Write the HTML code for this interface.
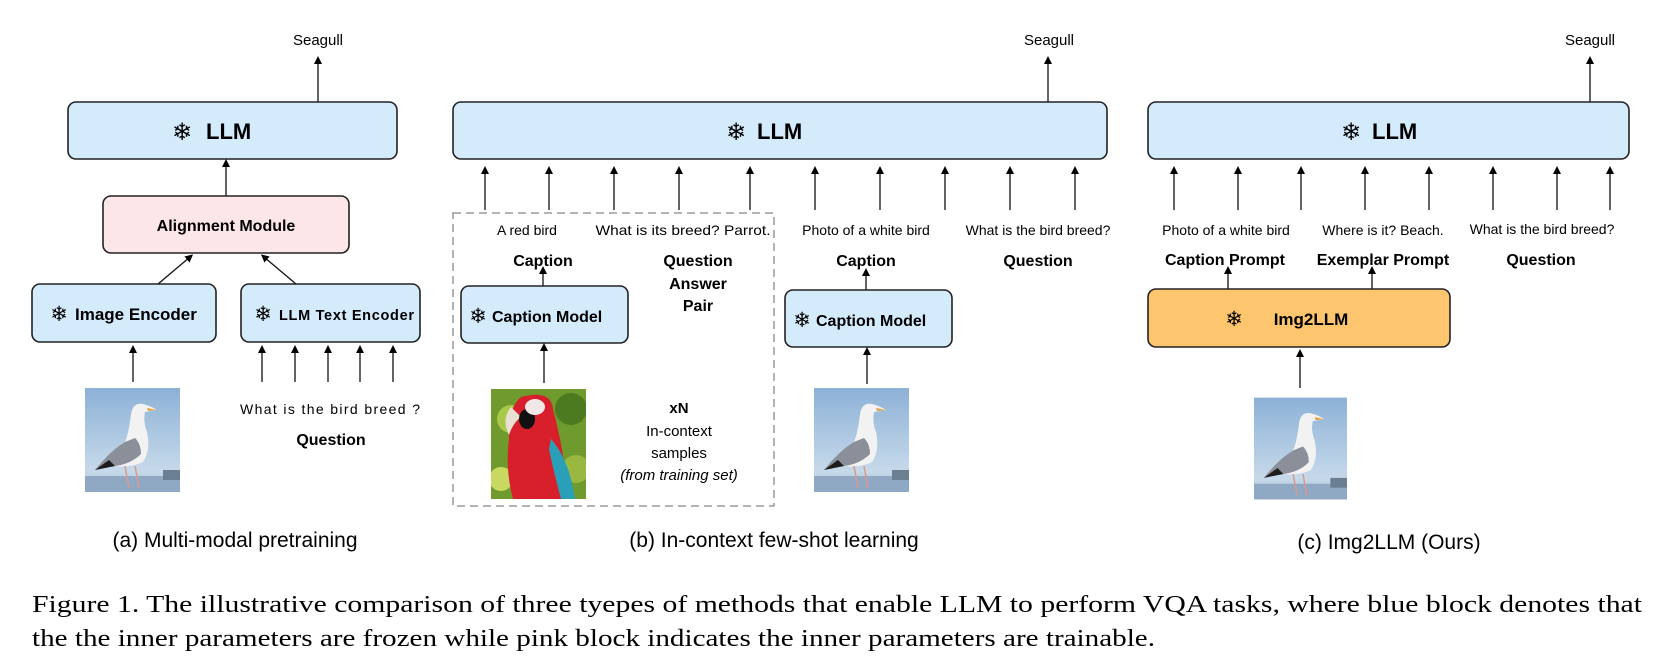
<!DOCTYPE html>
<html><head><meta charset="utf-8"><style>
html,body{margin:0;padding:0;background:#fff;}
svg{display:block;}
.s{font-family:"Liberation Sans",sans-serif;}
.f{font-family:"DejaVu Sans",sans-serif;}
.b{font-weight:bold;}
.bx{stroke:#222;stroke-width:1.6;}
.ln{stroke:#111;stroke-width:1.3;fill:none;}
</style></head><body>
<svg width="1677" height="669" viewBox="0 0 1677 669" xmlns="http://www.w3.org/2000/svg">
<defs>
<marker id="ar" markerWidth="8" markerHeight="8" refX="4" refY="4" orient="auto" markerUnits="userSpaceOnUse">
<path d="M0,0 L8,4 L0,8 z" fill="#000"/></marker>
<linearGradient id="sky" x1="0" y1="0" x2="0" y2="1"><stop offset="0" stop-color="#8cb1d6"/><stop offset="0.8" stop-color="#c6d9ea"/><stop offset="1" stop-color="#a9bfd4"/></linearGradient>
<symbol id="gull" viewBox="0 0 95 104">
<rect width="95" height="104" fill="url(#sky)"/>
<rect y="88" width="95" height="16" fill="#8fa9c4"/>
<rect x="78" y="82" width="17" height="10" fill="#6b7f92"/>
<path d="M58 16 Q48 14 46 26 Q44 44 40 54 Q26 62 10 82 L30 78 Q46 80 58 74 Q66 62 62 44 Q58 34 60 24 L72 22 Q66 18 58 16z" fill="#f2f2f2"/>
<path d="M40 54 Q26 62 10 82 L30 78 Q46 76 56 66 Q56 56 50 50z" fill="#8a8f99"/>
<path d="M10 82 L24 72 L30 78z" fill="#1c1c1c"/>
<path d="M62 20 L72 22 L63 23z" fill="#e0a040"/>
<line x1="40" y1="78" x2="44" y2="100" stroke="#d99a8a" stroke-width="1.5"/>
<line x1="50" y1="78" x2="54" y2="100" stroke="#d99a8a" stroke-width="1.5"/>
</symbol>
<symbol id="parrot" viewBox="0 0 95 110">
<rect width="95" height="110" fill="#6f9a2e"/>
<circle cx="20" cy="30" r="14" fill="#a8c84a"/><circle cx="80" cy="20" r="16" fill="#4c7a20"/><circle cx="85" cy="80" r="14" fill="#9ab840"/><circle cx="10" cy="90" r="12" fill="#c8d860"/>
<path d="M30 8 Q60 0 62 20 Q70 50 74 80 L82 110 L22 110 Q14 80 18 50 Q16 20 30 8z" fill="#d8202c"/>
<path d="M60 50 Q78 70 84 110 L70 110 Q62 80 58 60z" fill="#2aa0b8"/>
<path d="M20 18 Q10 30 18 46 Q22 34 30 28z" fill="#e8e0d0"/>
<ellipse cx="36" cy="30" rx="8" ry="10" fill="#111"/>
<ellipse cx="44" cy="18" rx="10" ry="8" fill="#f0e8e8"/>
</symbol>
</defs>

<!-- Panel A -->
<text x="318" y="45" class="s" font-size="15" text-anchor="middle">Seagull</text>
<line x1="318" y1="102" x2="318" y2="60" class="ln" marker-end="url(#ar)"/>
<rect x="68" y="102" width="329" height="57" rx="8" fill="#d4ebfc" class="bx"/>
<text x="182" y="140" class="f" font-size="24" text-anchor="middle">❄</text>
<text x="206" y="139" class="s b" font-size="22">LLM</text>
<line x1="226" y1="196" x2="226" y2="163" class="ln" marker-end="url(#ar)"/>
<rect x="103" y="196" width="246" height="57" rx="8" fill="#fde6e8" class="bx"/>
<text x="226" y="231" class="s b" font-size="16" text-anchor="middle">Alignment Module</text>
<line x1="158" y1="284" x2="190" y2="257" class="ln" marker-end="url(#ar)"/>
<line x1="296" y1="284" x2="264" y2="257" class="ln" marker-end="url(#ar)"/>
<rect x="32" y="284" width="184" height="58" rx="8" fill="#d4ebfc" class="bx"/>
<text x="59" y="321" class="f" font-size="21" text-anchor="middle">❄</text>
<text x="75" y="320" class="s b" font-size="17">Image Encoder</text>
<rect x="241" y="284" width="179" height="58" rx="8" fill="#d4ebfc" class="bx"/>
<text x="263" y="321" class="f" font-size="21" text-anchor="middle">❄</text>
<text x="279" y="320" class="s b" font-size="14.5" textLength="135">LLM Text Encoder</text>
<line x1="133" y1="382" x2="133" y2="349" class="ln" marker-end="url(#ar)"/>
<line x1="262" y1="382" x2="262" y2="349" class="ln" marker-end="url(#ar)"/>
<line x1="295" y1="382" x2="295" y2="349" class="ln" marker-end="url(#ar)"/>
<line x1="328" y1="382" x2="328" y2="349" class="ln" marker-end="url(#ar)"/>
<line x1="360" y1="382" x2="360" y2="349" class="ln" marker-end="url(#ar)"/>
<line x1="393" y1="382" x2="393" y2="349" class="ln" marker-end="url(#ar)"/>
<use href="#gull" x="85" y="388" width="95" height="104"/>
<text x="240" y="414" class="s" font-size="14" textLength="180">What is the bird breed ?</text>
<text x="331" y="445" class="s b" font-size="16" text-anchor="middle">Question</text>
<text x="235" y="547" class="s" font-size="21" text-anchor="middle">(a)  Multi-modal pretraining</text>

<!-- Panel B -->
<text x="1049" y="45" class="s" font-size="15" text-anchor="middle">Seagull</text>
<line x1="1048" y1="102" x2="1048" y2="60" class="ln" marker-end="url(#ar)"/>
<rect x="453" y="102" width="654" height="57" rx="8" fill="#d4ebfc" class="bx"/>
<text x="736" y="140" class="f" font-size="24" text-anchor="middle">❄</text>
<text x="757" y="139" class="s b" font-size="22">LLM</text>
<g>
<line x1="485" y1="210" x2="485" y2="170" class="ln" marker-end="url(#ar)"/>
<line x1="549" y1="210" x2="549" y2="170" class="ln" marker-end="url(#ar)"/>
<line x1="614" y1="210" x2="614" y2="170" class="ln" marker-end="url(#ar)"/>
<line x1="679" y1="210" x2="679" y2="170" class="ln" marker-end="url(#ar)"/>
<line x1="750" y1="210" x2="750" y2="170" class="ln" marker-end="url(#ar)"/>
<line x1="815" y1="210" x2="815" y2="170" class="ln" marker-end="url(#ar)"/>
<line x1="880" y1="210" x2="880" y2="170" class="ln" marker-end="url(#ar)"/>
<line x1="945" y1="210" x2="945" y2="170" class="ln" marker-end="url(#ar)"/>
<line x1="1010" y1="210" x2="1010" y2="170" class="ln" marker-end="url(#ar)"/>
<line x1="1075" y1="210" x2="1075" y2="170" class="ln" marker-end="url(#ar)"/>
</g>
<rect x="453" y="213" width="321" height="293" fill="none" stroke="#888" stroke-width="1.3" stroke-dasharray="8,5"/>
<text x="527" y="235" class="s" font-size="14" text-anchor="middle">A red bird</text>
<text x="683" y="235" class="s" font-size="14" text-anchor="middle" textLength="175" lengthAdjust="spacingAndGlyphs">What is its breed? Parrot.</text>
<text x="866" y="235" class="s" font-size="14" text-anchor="middle">Photo of a white bird</text>
<text x="1038" y="235" class="s" font-size="14" text-anchor="middle">What is the bird breed?</text>
<text x="543" y="266" class="s b" font-size="16" text-anchor="middle">Caption</text>
<text x="698" y="266" class="s b" font-size="16" text-anchor="middle">Question</text>
<text x="698" y="289" class="s b" font-size="16" text-anchor="middle">Answer</text>
<text x="698" y="311" class="s b" font-size="16" text-anchor="middle">Pair</text>
<text x="866" y="266" class="s b" font-size="16" text-anchor="middle">Caption</text>
<text x="1038" y="266" class="s b" font-size="16" text-anchor="middle">Question</text>
<line x1="543" y1="286" x2="543" y2="270" class="ln" marker-end="url(#ar)"/>
<rect x="461" y="286" width="167" height="57" rx="8" fill="#d4ebfc" class="bx"/>
<text x="478" y="323" class="f" font-size="21" text-anchor="middle">❄</text>
<text x="492" y="322" class="s b" font-size="16">Caption Model</text>
<line x1="866" y1="290" x2="866" y2="272" class="ln" marker-end="url(#ar)"/>
<rect x="785" y="290" width="167" height="57" rx="8" fill="#d4ebfc" class="bx"/>
<text x="802" y="327" class="f" font-size="21" text-anchor="middle">❄</text>
<text x="816" y="326" class="s b" font-size="16">Caption Model</text>
<line x1="544" y1="383" x2="544" y2="347" class="ln" marker-end="url(#ar)"/>
<line x1="867" y1="384" x2="867" y2="351" class="ln" marker-end="url(#ar)"/>
<use href="#parrot" x="491" y="389" width="95" height="110" preserveAspectRatio="none"/>
<use href="#gull" x="814" y="388" width="95" height="104" preserveAspectRatio="none"/>
<text x="679" y="413" class="s b" font-size="15" text-anchor="middle">xN</text>
<text x="679" y="436" class="s" font-size="15" text-anchor="middle">In-context</text>
<text x="679" y="458" class="s" font-size="15" text-anchor="middle">samples</text>
<text x="679" y="480" class="s" font-size="15" font-style="italic" text-anchor="middle">(from training set)</text>
<text x="774" y="547" class="s" font-size="21" text-anchor="middle">(b) In-context few-shot learning</text>

<!-- Panel C -->
<text x="1590" y="45" class="s" font-size="15" text-anchor="middle">Seagull</text>
<line x1="1590" y1="102" x2="1590" y2="60" class="ln" marker-end="url(#ar)"/>
<rect x="1148" y="102" width="481" height="57" rx="8" fill="#d4ebfc" class="bx"/>
<text x="1351" y="140" class="f" font-size="24" text-anchor="middle">❄</text>
<text x="1372" y="139" class="s b" font-size="22">LLM</text>
<g>
<line x1="1174" y1="210" x2="1174" y2="170" class="ln" marker-end="url(#ar)"/>
<line x1="1238" y1="210" x2="1238" y2="170" class="ln" marker-end="url(#ar)"/>
<line x1="1301" y1="210" x2="1301" y2="170" class="ln" marker-end="url(#ar)"/>
<line x1="1365" y1="210" x2="1365" y2="170" class="ln" marker-end="url(#ar)"/>
<line x1="1429" y1="210" x2="1429" y2="170" class="ln" marker-end="url(#ar)"/>
<line x1="1493" y1="210" x2="1493" y2="170" class="ln" marker-end="url(#ar)"/>
<line x1="1557" y1="210" x2="1557" y2="170" class="ln" marker-end="url(#ar)"/>
<line x1="1610" y1="210" x2="1610" y2="170" class="ln" marker-end="url(#ar)"/>
</g>
<text x="1226" y="235" class="s" font-size="14" text-anchor="middle">Photo of a white bird</text>
<text x="1383" y="235" class="s" font-size="14" text-anchor="middle">Where is it? Beach.</text>
<text x="1542" y="234" class="s" font-size="14" text-anchor="middle">What is the bird breed?</text>
<text x="1225" y="265" class="s b" font-size="16" text-anchor="middle">Caption Prompt</text>
<text x="1383" y="265" class="s b" font-size="16" text-anchor="middle">Exemplar Prompt</text>
<text x="1541" y="265" class="s b" font-size="16" text-anchor="middle">Question</text>
<line x1="1228" y1="289" x2="1228" y2="270" class="ln" marker-end="url(#ar)"/>
<line x1="1372" y1="289" x2="1372" y2="270" class="ln" marker-end="url(#ar)"/>
<rect x="1148" y="289" width="302" height="58" rx="8" fill="#fdc56e" class="bx"/>
<text x="1234" y="326" class="f" font-size="21" text-anchor="middle">❄</text>
<text x="1311" y="325" class="s b" font-size="17" text-anchor="middle">Img2LLM</text>
<line x1="1300" y1="388" x2="1300" y2="353" class="ln" marker-end="url(#ar)"/>
<use href="#gull" x="1254" y="396" width="93" height="105" preserveAspectRatio="none"/>
<text x="1389" y="549" class="s" font-size="21" text-anchor="middle">(c) Img2LLM (Ours)</text>

<!-- Figure caption -->
<text x="32" y="612" font-family="'Liberation Serif',serif" font-size="24" textLength="1610" lengthAdjust="spacingAndGlyphs">Figure 1.  The illustrative comparison of three tyepes of methods that enable LLM to perform VQA tasks, where blue block denotes that</text>
<text x="32" y="646" font-family="'Liberation Serif',serif" font-size="24" textLength="1123" lengthAdjust="spacingAndGlyphs">the the inner parameters are frozen while pink block indicates the inner parameters are trainable.</text>
</svg>
</body></html>
